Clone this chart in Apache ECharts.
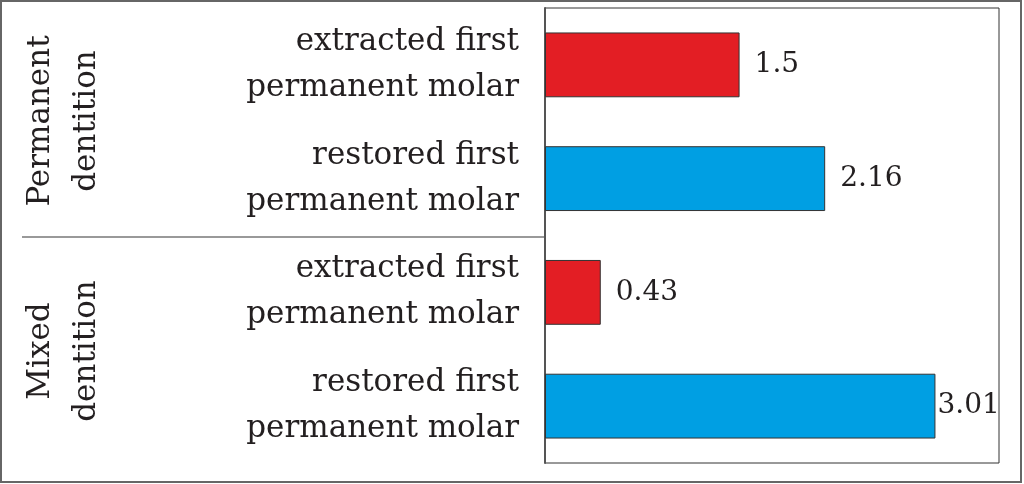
<!DOCTYPE html>
<html>
<head>
<meta charset="utf-8">
<script src="https://cdn.jsdelivr.net/npm/echarts@6/dist/echarts.min.js"></script>
<style>
html,body{margin:0;padding:0;background:#fff;}
#chart{width:1024px;height:484px;}
</style>
</head>
<body>
<div id="chart"></div>
<script>
const categories = [
  'extracted first\npermanent molar',
  'restored first\npermanent molar',
  'extracted first\npermanent molar',
  'restored first\npermanent molar'
];
const values = [1.5, 2.16, 0.43, 3.01];
const barColors = ['#E31E24', '#009FE3', '#E31E24', '#009FE3'];
const groupLabels = ['Permanent\ndentition', 'Mixed\ndentition'];
const xMax = 3.5;

const FONT = 'DejaVu Serif';
const TEXT = '#231f20';

const chart = echarts.init(document.getElementById('chart'));
const data = values.map((v, i) => ({
  value: v,
  itemStyle: { color: barColors[i] },
  label: { distance: v > 3 ? 2 : 15 }
}));

chart.setOption({
  animation: false,
  grid: {
    left: 545, right: 25, top: 8, bottom: 21,
    show: true, borderColor: '#333', borderWidth: 1, backgroundColor: 'transparent'
  },
  xAxis: {
    type: 'value', min: 0, max: xMax,
    axisLine: { show: false }, axisTick: { show: false },
    axisLabel: { show: false }, splitLine: { show: false }
  },
  yAxis: {
    type: 'category', data: categories, inverse: true,
    axisLine: { show: true, lineStyle: { color: '#555', width: 2 } },
    axisTick: { show: false },
    axisLabel: {
      margin: 26, fontFamily: FONT, fontSize: 31, lineHeight: 46,
      color: TEXT, align: 'right'
    }
  },
  series: [{
    type: 'bar',
    data: data,
    barWidth: '57%',
    itemStyle: { borderColor: '#333', borderWidth: 1 },
    label: {
      show: true, position: 'right',
      fontFamily: FONT, fontSize: 28, color: TEXT
    }
  }],
  graphic: [
    {
      type: 'rect', silent: true,
      shape: { x: 1, y: 1, width: 1020, height: 481 },
      style: { fill: 'none', stroke: '#666', lineWidth: 2 }
    },
    {
      type: 'line', silent: true,
      shape: { x1: 22, y1: 237, x2: 545, y2: 237 },
      style: { stroke: '#999', lineWidth: 2 }
    },
    {
      type: 'text', silent: true, x: 64, y: 121, rotation: Math.PI / 2,
      style: {
        text: groupLabels[0], textAlign: 'center', textVerticalAlign: 'middle',
        fontFamily: FONT, fontSize: 31, lineHeight: 46, fill: TEXT
      }
    },
    {
      type: 'text', silent: true, x: 64, y: 351, rotation: Math.PI / 2,
      style: {
        text: groupLabels[1], textAlign: 'center', textVerticalAlign: 'middle',
        fontFamily: FONT, fontSize: 31, lineHeight: 46, fill: TEXT
      }
    }
  ]
});
</script>
</body>
</html>
